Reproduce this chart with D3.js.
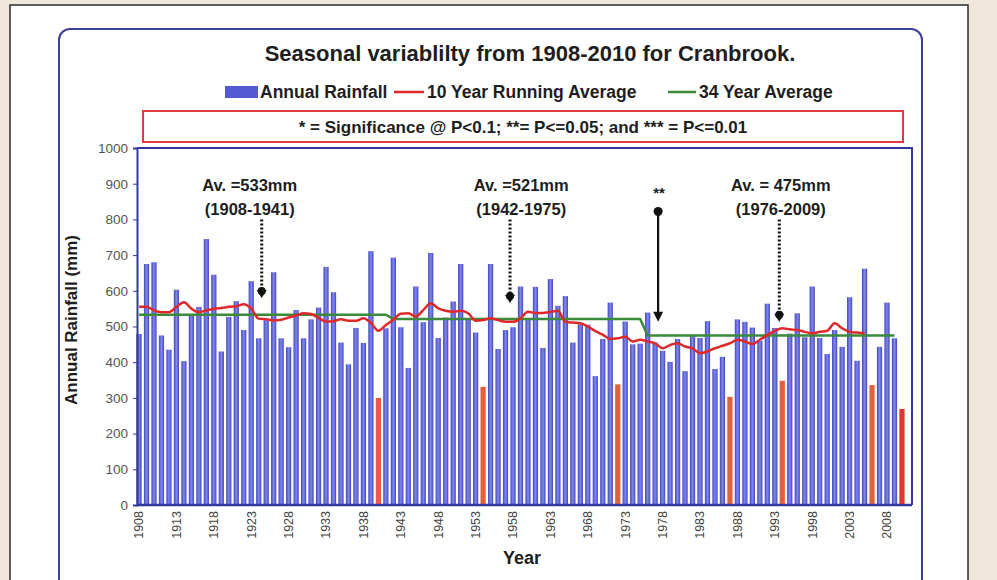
<!DOCTYPE html>
<html>
<head>
<meta charset="utf-8">
<script src="https://cdn.jsdelivr.net/npm/d3@7/dist/d3.min.js"></script>
<style>
  body { margin: 0; background: #efe7da; }
  svg text { font-family: "Liberation Sans", Arial, sans-serif; }
</style>
</head>
<body>
<svg id="chart" width="997" height="580"></svg>
<script>
// annual rainfall at Cranbrook, 1908-2010 (mm)
var years = d3.range(1908, 2011);
var rainfall = [
    479, 675, 680, 475, 435, 603, 403, 530, 555, 745,   // 1908-1917
    645, 430, 527, 571, 490, 627, 467, 518, 652, 467,   // 1918-1927
    442, 546, 467, 520, 553, 667, 596, 455, 394, 496,   // 1928-1937
    454, 711, 300, 495, 693, 498, 384, 612, 512, 706,   // 1938-1947
    468, 525, 570, 675, 519, 483, 331, 675, 437, 490,   // 1948-1957
    498, 612, 520, 611, 440, 633, 558, 585, 455, 506,   // 1958-1967
    505, 361, 465, 567, 338, 514, 450, 452, 539, 455,   // 1968-1977
    432, 401, 465, 375, 476, 468, 515, 381, 415, 303,   // 1978-1987
    520, 513, 497, 460, 564, 496, 348, 480, 537, 470,   // 1988-1997
    612, 468, 423, 490, 443, 582, 404, 662, 336, 443,   // 1998-2007
    567, 467, 269                                       // 2008-2010
];
// years drawn in red/orange (dry years)
var dryYears = [1940, 1954, 1972, 1987, 1994, 2006];
var latestYear = 2010;

// 10 year running average, 1908-2005
var runYears = d3.range(1908, 2006);
var runAvg = [
    555, 555, 545, 540, 540, 555, 568, 550, 540, 545,   // 1908-1917
    550, 552, 555, 557, 562, 550, 522, 520, 517, 519,   // 1918-1927
    525, 531, 537, 535, 524, 514, 515, 520, 516, 516,   // 1928-1937
    523, 510, 488, 504, 519, 536, 537, 528, 546, 565,   // 1938-1947
    551, 544, 541, 544, 537, 516, 518, 523, 518, 513,   // 1948-1957
    513, 523, 541, 538, 538, 541, 544, 513, 511, 509,   // 1958-1967
    500, 487, 477, 465, 467, 471, 458, 463, 458, 453,   // 1968-1977
    439, 448, 453, 444, 439, 425, 430, 439, 446, 453,   // 1978-1987
    463, 458, 451, 463, 476, 488, 495, 492, 490, 485,   // 1988-1997
    481, 485, 488, 509, 495, 485, 483, 481              // 1998-2005
];

// 34 year period averages
var periodStart = [1908, 1942, 1976];
var periodEnd   = [1941, 1975, 2009];
var periodMean  = [533, 521, 475];
var periodText  = ["Av. =533mm", "Av. =521mm", "Av. = 475mm"];
var periodRange = ["(1908-1941)", "(1942-1975)", "(1976-2009)"];

var yTicks = d3.range(0, 1001, 100);
var xTickYears = d3.range(1908, 2011, 5);

var svg = d3.select("#chart");

// page / card
svg.append("rect").attr("width", 997).attr("height", 580).attr("fill", "#efe7da");
svg.append("rect").attr("x", 10).attr("y", 5).attr("width", 958).attr("height", 620)
    .attr("fill", "#ffffff").attr("stroke", "#2b2b2b").attr("stroke-width", 1.5);
svg.append("rect").attr("x", 59).attr("y", 29).attr("width", 863).attr("height", 620)
    .attr("rx", 11).attr("fill", "none").attr("stroke", "#3b3f9e").attr("stroke-width", 2);

// scales
var x = d3.scaleBand()
    .domain(years)
    .range([135.3, 905.7])
    .paddingInner(0.3)
    .paddingOuter(0.15);
var xc = function(yr) { return x(yr) + x.bandwidth() / 2; };
var xl = d3.scaleLinear().domain([1908, 2010]).range([xc(1908), xc(2010)]);
var y = d3.scaleLinear().domain([0, 1000]).range([505, 148]);

// bar gradient (scanned look)
var defs = svg.append("defs");
var grad = defs.append("linearGradient").attr("id", "barBlue")
    .attr("x1", "0%").attr("x2", "100%").attr("y1", "0%").attr("y2", "0%");
grad.append("stop").attr("offset", "0%").attr("stop-color", "#4046c6");
grad.append("stop").attr("offset", "50%").attr("stop-color", "#8388e6");
grad.append("stop").attr("offset", "100%").attr("stop-color", "#4046c6");

// title
svg.append("text").attr("x", 530).attr("y", 61).attr("text-anchor", "middle")
    .attr("font-size", 22).attr("font-weight", "bold").attr("fill", "#1e1e1e")
    .text("Seasonal variablilty from 1908-2010 for Cranbrook.");

// legend
var lg = svg.append("g").attr("font-size", 17.5).attr("font-weight", "bold").attr("fill", "#1e1e1e");
lg.append("rect").attr("x", 225).attr("y", 86).attr("width", 33).attr("height", 12).attr("fill", "#5459d4");
lg.append("text").attr("x", 260).attr("y", 98).text("Annual Rainfall");
lg.append("line").attr("x1", 394).attr("x2", 424).attr("y1", 92).attr("y2", 92)
    .attr("stroke", "#e02828").attr("stroke-width", 2.5);
lg.append("text").attr("x", 427).attr("y", 98).text("10 Year Running Average");
lg.append("line").attr("x1", 668).attr("x2", 696).attr("y1", 92).attr("y2", 92)
    .attr("stroke", "#3a8a3a").attr("stroke-width", 2.5);
lg.append("text").attr("x", 699).attr("y", 98).text("34 Year Average");

// significance box
svg.append("rect").attr("x", 143).attr("y", 111).attr("width", 760).attr("height", 31)
    .attr("fill", "none").attr("stroke", "#e0393f").attr("stroke-width", 2);
svg.append("text").attr("x", 523).attr("y", 133).attr("text-anchor", "middle")
    .attr("font-size", 17).attr("font-weight", "bold").attr("fill", "#1e1e1e")
    .text("* = Significance @ P<0.1; **= P<=0.05; and *** = P<=0.01");

// bars
svg.append("g").selectAll("rect")
    .data(years)
    .enter()
    .append("rect")
        .attr("x", function(d) { return x(d); })
        .attr("y", function(d, i) { return y(rainfall[i]); })
        .attr("width", x.bandwidth())
        .attr("height", function(d, i) { return y(0) - y(rainfall[i]); })
        .attr("fill", function(d) {
            if (d == latestYear) return "#e23434";
            if (dryYears.indexOf(d) >= 0) return "#e4603a";
            return "url(#barBlue)";
        });

// plot frame
svg.append("path")
    .attr("d", "M137,148H912V505")
    .attr("fill", "none").attr("stroke", "#33389c").attr("stroke-width", 2);

// y axis
var yAxis = svg.append("g")
    .attr("transform", "translate(137,0)")
    .call(d3.axisLeft(y).tickValues(yTicks).tickSize(4).tickFormat(d3.format("d")));
yAxis.select(".domain").attr("stroke", "#33389c").attr("stroke-width", 2);
yAxis.selectAll(".tick line").attr("stroke", "#33389c");
yAxis.selectAll("text").attr("font-size", 13.5).attr("fill", "#555")
    .attr("font-family", "\"Liberation Sans\", Arial, sans-serif").attr("x", -9);

// x axis line and labels
svg.append("line").attr("x1", 137).attr("x2", 912).attr("y1", 505).attr("y2", 505)
    .attr("stroke", "#33389c").attr("stroke-width", 2.5);
svg.append("g").selectAll("text")
    .data(xTickYears)
    .enter()
    .append("text")
        .attr("transform", function(d) { return "translate(" + xc(d) + ",511) rotate(-90)"; })
        .attr("text-anchor", "end")
        .attr("dy", "0.35em")
        .attr("font-size", 12.5)
        .attr("fill", "#444")
        .text(function(d) { return d; });

// axis titles
svg.append("text").attr("transform", "translate(77,320) rotate(-90)")
    .attr("text-anchor", "middle").attr("font-size", 17).attr("font-weight", "bold").attr("fill", "#1e1e1e")
    .text("Annual Rainfall (mm)");
svg.append("text").attr("x", 522).attr("y", 564).attr("text-anchor", "middle")
    .attr("font-size", 18).attr("font-weight", "bold").attr("fill", "#1e1e1e")
    .text("Year");

// 34 year average (green)
var greenPts = [];
periodStart.forEach(function(s, i) {
    greenPts.push([s, periodMean[i]]);
    greenPts.push([periodEnd[i], periodMean[i]]);
});
svg.append("path")
    .datum(greenPts)
    .attr("fill", "none").attr("stroke", "#3a8a3a").attr("stroke-width", 2.5)
    .attr("d", d3.line().x(function(d) { return xl(d[0]); }).y(function(d) { return y(d[1]); }));

// 10 year running average (red)
svg.append("path")
    .datum(runYears)
    .attr("fill", "none").attr("stroke", "#e02828").attr("stroke-width", 2.5)
    .attr("d", d3.line()
        .curve(d3.curveMonotoneX)
        .x(function(d) { return xc(d); })
        .y(function(d, i) { return y(runAvg[i]); }));

// annotations
var annoTextYear = [1922.8, 1959.1, 1993.8];
var annoArrowYear = [1924.4, 1957.6, 1993.6];
var annoArrowEnd = [580, 566, 513];
var ag = svg.append("g");
periodText.forEach(function(t, i) {
    ag.append("text").attr("x", xl(annoTextYear[i])).attr("y", 191)
        .attr("text-anchor", "middle").attr("font-size", 16.5).attr("font-weight", "bold")
        .attr("fill", "#1e1e1e").text(t);
    ag.append("text").attr("x", xl(annoTextYear[i])).attr("y", 215)
        .attr("text-anchor", "middle").attr("font-size", 16.5).attr("font-weight", "bold")
        .attr("fill", "#1e1e1e").text(periodRange[i]);
    var ax = xl(annoArrowYear[i]);
    ag.append("line").attr("x1", ax).attr("x2", ax)
        .attr("y1", y(800)).attr("y2", y(annoArrowEnd[i]) - 6)
        .attr("stroke", "#111").attr("stroke-width", 3).attr("stroke-dasharray", "2,2");
    ag.append("path")
        .attr("d", "M" + (ax - 5) + "," + (y(annoArrowEnd[i]) - 8) + "L" + (ax + 5) + "," + (y(annoArrowEnd[i]) - 8) +
            "L" + ax + "," + y(annoArrowEnd[i]) + "Z")
        .attr("fill", "#111");
    ag.append("circle").attr("cx", ax).attr("cy", y(annoArrowEnd[i]) - 7).attr("r", 4).attr("fill", "#111");
});

// significant shift marker (**)
var shiftYear = 1977.4;
var sx = xl(shiftYear);
ag.append("text").attr("x", sx + 1).attr("y", 198).attr("text-anchor", "middle")
    .attr("font-size", 15).attr("font-weight", "bold").attr("fill", "#1e1e1e").text("**");
ag.append("circle").attr("cx", sx).attr("cy", y(822)).attr("r", 4.5).attr("fill", "#111");
ag.append("line").attr("x1", sx).attr("x2", sx).attr("y1", y(822)).attr("y2", y(513) - 8)
    .attr("stroke", "#111").attr("stroke-width", 2.2);
ag.append("path")
    .attr("d", "M" + (sx - 5) + "," + (y(513) - 10) + "L" + (sx + 5) + "," + (y(513) - 10) + "L" + sx + "," + y(513) + "Z")
    .attr("fill", "#111");
</script>
</body>
</html>
